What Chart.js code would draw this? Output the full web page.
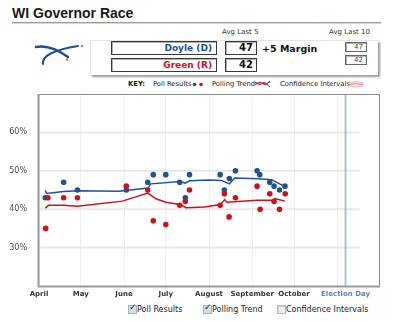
<!DOCTYPE html>
<html>
<head>
<meta charset="utf-8">
<script src="https://cdn.jsdelivr.net/npm/chart.js@4"></script>
<style>
  body { margin: 0; width: 400px; height: 322px; background: #fff; font-family: "DejaVu Sans", sans-serif; position: relative; overflow: hidden; }
  .abs { position: absolute; white-space: nowrap; }
  #title { left: 12px; top: 6px; font: bold 14px "Liberation Sans", Arial, sans-serif; line-height: 14px; color: #1a1a1a; }
  #rule { left: 12px; top: 22px; width: 369px; height: 1px; background: #9a9a9a; border-bottom: 1px solid #d8d8d8; }
  .small { font-size: 7px; color: #333; line-height: 8px; }
  #panel { left: 90px; top: 40px; width: 287px; height: 34px; border-top: 1px solid #e6e6e6; border-left: 1px solid #e6e6e6; box-shadow: 2px 2px 2px #9a9a9a; }
  .box { border: 1px solid #3a3a3a; box-shadow: inset 1px 1px 0 #b0b0b0; background: #fff; text-align: right; box-sizing: border-box; }
  .name { width: 106px; height: 14px; font-weight: bold; font-size: 9px; line-height: 12px; padding-right: 4px; }
  .val { width: 32px; height: 14px; font-weight: bold; font-size: 10px; line-height: 12px; padding-right: 3px; color: #111; }
  .mini { width: 22px; height: 10px; font-size: 7px; line-height: 8px; padding-right: 3px; color: #444; border-color: #666; }
  #margin { left: 262px; top: 43px; font-weight: bold; font-size: 9.5px; color: #111; }
  .key { font-size: 6.8px; color: #222; top: 80px; line-height: 8px; }
  .cb { top: 305px; width: 9px; height: 9px; box-sizing: border-box; }
  .cb.on { background: #d2e2e8; border: 1px solid #9fb4bd; }
  .cb.off { background: #f0f0f0; border: 1px solid #b8b8b8; box-shadow: inset 1px 1px 0 #d0d0d0; }
  .chk { font-size: 9px; line-height: 9px; color: #1a2a33; top: 303px; font-weight: bold; }
  .cbl { top: 305px; font-size: 8px; line-height: 9px; color: #222; }
  #chart { position: absolute; left: 0; top: 0; }
</style>
</head>
<body>
<div class="abs" id="title">WI Governor Race</div>
<div class="abs" id="rule"></div>

<svg class="abs" style="left:0;top:0" width="100" height="80">
  <path d="M36,47 Q50,44 68,57" stroke="#1f4f99" stroke-width="2.6" fill="none" stroke-linecap="round"/>
  <path d="M43,64 Q41,52 78,46" stroke="#1f4f99" stroke-width="2" fill="none" stroke-linecap="round"/>
  <circle cx="82" cy="46" r="1.3" fill="#f07a22"/>
  <circle cx="67" cy="59.5" r="1.3" fill="#f07a22"/>
</svg>

<div class="abs small" style="left:222px;top:28px">Avg Last 5</div>
<div class="abs small" style="left:329px;top:28px">Avg Last 10</div>
<div class="abs" id="panel"></div>
<div class="abs box name" style="left:111px;top:41px;color:#1f4f99">Doyle (D)</div>
<div class="abs box name" style="left:111px;top:58px;color:#d0101a">Green (R)</div>
<div class="abs box val" style="left:225px;top:41px">47</div>
<div class="abs box val" style="left:225px;top:58px">42</div>
<div class="abs" id="margin">+5 Margin</div>
<div class="abs box mini" style="left:345px;top:42px">47</div>
<div class="abs box mini" style="left:345px;top:55px">42</div>

<div class="abs key" style="left:128px;font-weight:bold">KEY:</div>
<div class="abs key" style="left:153px">Poll Results</div>
<svg class="abs" style="left:190px;top:80px" width="16" height="8">
  <circle cx="4.5" cy="4.5" r="1.8" fill="#1f4f99"/>
  <circle cx="11" cy="4.5" r="1.8" fill="#d0101a"/>
</svg>
<div class="abs key" style="left:212px">Polling Trend</div>
<svg class="abs" style="left:255px;top:79px" width="16" height="10">
  <polyline points="0,3 5,6 9,3 15,8" stroke="#d0101a" stroke-width="1" fill="none"/>
  <polyline points="0,6 5,3 10,6 15,2" stroke="#d0101a" stroke-width="1" fill="none"/>
  <polyline points="0,4 6,4 11,5 15,3" stroke="#1f4f99" stroke-width="0.8" fill="none"/>
</svg>
<div class="abs key" style="left:280px">Confidence Intervals</div>
<svg class="abs" style="left:348px;top:79px" width="16" height="10">
  <path d="M1,4 L8,2 L15,4 L15,7 L8,8 L1,7 Z" fill="#fbe0e3" stroke="#f0a0a8" stroke-width="0.7"/>
  <polyline points="1,5.5 8,4.5 15,6" stroke="#e06070" stroke-width="0.7" fill="none"/>
</svg>

<div class="abs cb on" style="left:128px"></div><div class="abs chk" style="left:129px">✓</div>
<div class="abs cbl" style="left:137px">Poll Results</div>
<div class="abs cb on" style="left:203px"></div><div class="abs chk" style="left:204px">✓</div>
<div class="abs cbl" style="left:212px">Polling Trend</div>
<div class="abs cb off" style="left:277px"></div>
<div class="abs cbl" style="left:286px">Confidence Intervals</div>

<canvas id="chart" width="400" height="322"></canvas>

<script>
// x values are days counted from April 1 (2006)
const tickDays = [0, 30, 61, 91, 122, 153, 183, 214, 220];
const tickLabels = ['April', 'May', 'June', 'July', 'August', 'September', 'October', '', 'Election Day'];
const electionDay = 220;
const yTicks = [30, 40, 50, 60];

const doyleDays = [4.5, 17.7, 27.6, 62.7, 78, 82, 91, 101, 105, 108, 130, 133, 136.6, 141, 156.5, 158.4, 165.6, 168.7, 172.6, 176.5];
const doylePolls = [43, 47, 45, 45, 47, 49, 49, 47, 43, 49, 49, 45, 48, 50, 50, 49, 47, 46, 45, 46];
const greenDays = [4.8, 6.4, 17.7, 27.6, 62.7, 78, 82, 91, 101, 105, 108, 130, 133, 136.4, 141, 156.5, 158.7, 165.6, 168.7, 172.6, 176.7];
const greenPolls = [35, 43, 43, 43, 46, 45, 37, 36, 41, 42, 45, 41, 44, 38, 43, 46, 40, 44, 42, 40, 44];

const doyleTrendDays = [4.4, 5.5, 17.7, 27.8, 57.4, 78.1, 80.3, 101.2, 105, 107.9, 122.4, 130.8, 136.6, 140.4, 157.2, 166.9, 176.5];
const doyleTrend = [44.9, 44.1, 44.6, 44.8, 44.7, 45.5, 46.6, 47.2, 46.8, 47.4, 47.6, 47.5, 46.6, 48.1, 47.9, 47.7, 45.9];
const greenTrendDays = [4.5, 6.9, 17.7, 27.6, 59.8, 78.1, 83.9, 91.1, 101.2, 105.5, 118.8, 130.3, 133.2, 134.8, 156.5, 166.9, 169.3, 176.5];
const greenTrend = [40.3, 41.0, 41.0, 40.8, 42.1, 44.2, 42.7, 41.8, 41.2, 40.4, 40.6, 41.2, 42.5, 41.8, 42.3, 42.3, 42.8, 42.1];

const BLUE = '#22528f';
const RED = '#d0101a';

function pts(xs, ys) {
  return xs.map((x, i) => ({ x: x, y: ys[i] }));
}

const framePlugin = {
  id: 'frame',
  beforeDatasetsDraw(chart) {
    const { ctx, chartArea: a, scales: { x, y } } = chart;
    ctx.save();
    ctx.strokeStyle = '#e8e8e8';
    ctx.lineWidth = 2;
    const xEnd = x.getPixelForValue(230);
    yTicks.forEach(v => {
      const py = y.getPixelForValue(v);
      ctx.beginPath(); ctx.moveTo(a.left, py); ctx.lineTo(xEnd, py); ctx.stroke();
    });
    ctx.strokeStyle = '#a9bed8';
    ctx.lineWidth = 2;
    const ex = x.getPixelForValue(electionDay);
    ctx.beginPath(); ctx.moveTo(ex, a.top); ctx.lineTo(ex, a.bottom); ctx.stroke();
    ctx.restore();
  },
  afterDraw(chart) {
    const { ctx, chartArea: a } = chart;
    ctx.save();
    ctx.strokeStyle = '#8c8c8c';
    ctx.lineWidth = 1;
    ctx.beginPath();
    ctx.moveTo(a.left, a.top + 0.5); ctx.lineTo(a.right + 0.5, a.top + 0.5); ctx.lineTo(a.right + 0.5, a.bottom);
    ctx.stroke();
    ctx.strokeStyle = '#999';
    ctx.lineWidth = 2;
    ctx.beginPath();
    ctx.moveTo(a.left - 0.5, a.top); ctx.lineTo(a.left - 0.5, a.bottom + 0.5); ctx.lineTo(a.right + 1, a.bottom + 0.5);
    ctx.stroke();
    ctx.restore();
  }
};

Chart.defaults.font.family = '"DejaVu Sans", sans-serif';

new Chart(document.getElementById('chart').getContext('2d'), {
  type: 'scatter',
  data: {
    datasets: [
      { label: 'Green polls', data: pts(greenDays, greenPolls), backgroundColor: RED, borderColor: RED, pointRadius: 2.8, pointBorderWidth: 0 },
      { label: 'Doyle polls', data: pts(doyleDays, doylePolls), backgroundColor: BLUE, borderColor: BLUE, pointRadius: 2.8, pointBorderWidth: 0 },
      { label: 'Green trend', type: 'line', data: pts(greenTrendDays, greenTrend), borderColor: RED, borderWidth: 1.5, pointRadius: 0, fill: false, tension: 0 },
      { label: 'Doyle trend', type: 'line', data: pts(doyleTrendDays, doyleTrend), borderColor: BLUE, borderWidth: 1.5, pointRadius: 0, fill: false, tension: 0 }
    ]
  },
  options: {
    responsive: false,
    animation: false,
    layout: { padding: { top: 94, right: 21, bottom: 16, left: 0 } },
    plugins: { legend: { display: false }, tooltip: { enabled: false } },
    scales: {
      x: {
        type: 'linear',
        min: 0,
        max: 244,
        afterBuildTicks: s => { s.ticks = tickDays.map(v => ({ value: v })); },
        afterFit: s => { s.height = 20; },
        border: { display: false },
        grid: {
          drawTicks: false,
          lineWidth: 1,
          color: c => (c.tick && c.tick.value === electionDay) ? 'rgba(0,0,0,0)' : '#f0f0f0'
        },
        ticks: {
          autoSkip: false,
          maxRotation: 0,
          padding: 4,
          font: { size: 7, weight: 'bold' },
          color: c => (c.tick && c.tick.value === electionDay) ? '#5f7fb2' : '#333',
          callback: (v, i) => tickLabels[i]
        }
      },
      y: {
        min: 20,
        max: 70,
        afterFit: s => { s.width = 39; },
        border: { display: false },
        grid: { display: false },
        ticks: {
          stepSize: 10,
          padding: 4,
          font: { size: 8 },
          color: '#4a4a55',
          callback: v => yTicks.includes(v) ? v + '%' : ''
        }
      }
    }
  },
  plugins: [framePlugin]
});
</script>
</body>
</html>
